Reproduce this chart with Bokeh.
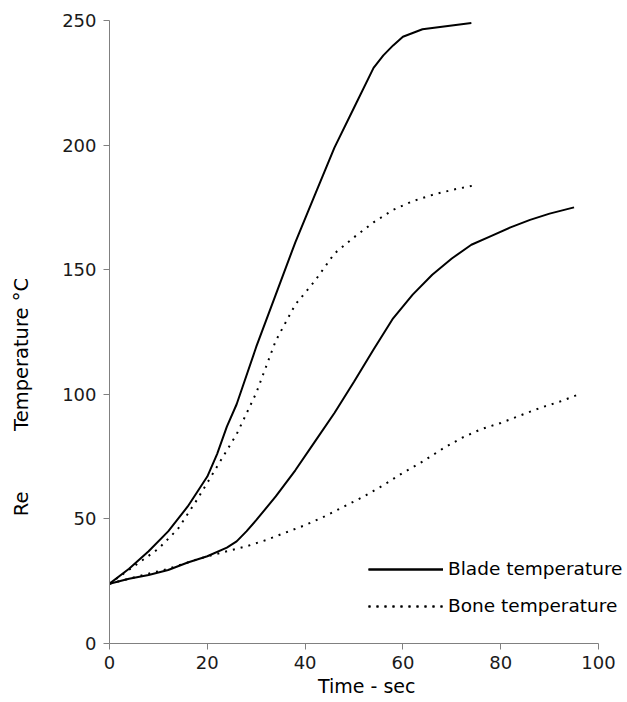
from bokeh.plotting import figure
from bokeh.models import Range1d, FixedTicker, Legend, LegendItem, LinearAxis
from bokeh.embed import file_html
from bokeh.resources import INLINE

# Data
blade1_t = [0, 4, 8, 12, 16, 20, 22, 24, 26, 30, 34, 38, 42, 46, 50, 54, 56, 58, 60, 64, 68, 74]
blade1_T = [24, 30, 37, 45, 55, 67, 76, 87, 96, 119, 140, 161, 180, 199, 215, 231, 236, 240, 243.5, 246.5, 247.5, 249]

bone1_t = [0, 5, 10, 14, 18, 22, 26, 30, 34, 38, 42, 46, 50, 54, 58, 62, 66, 70, 75]
bone1_T = [24, 31, 38, 46, 58, 71, 84, 100.5, 121.5, 136, 145.5, 156.5, 163, 169, 174, 177.5, 180, 182, 184]

blade2_t = [0, 4, 8, 12, 16, 20, 24, 26, 28, 30, 34, 38, 42, 46, 50, 54, 58, 62, 66, 70, 74, 78, 82, 86, 90, 95]
blade2_T = [24, 26, 27.5, 29.5, 32.5, 35, 38.5, 41, 45, 49.5, 59, 69.5, 81, 92.5, 105, 118, 130.5, 140, 148, 154.5, 160, 163.5, 167, 170, 172.5, 175]

bone2_t = [0, 4, 8, 12, 16, 20, 24, 28, 32, 36, 40, 44, 48, 52, 56, 60, 64, 68, 72, 76, 80, 84, 88, 92, 96]
bone2_T = [24, 26, 28, 30, 32.5, 35, 37, 39, 41.5, 44.5, 47.5, 51, 55, 59, 63.5, 68.5, 73, 78, 82.5, 86, 88.5, 91.5, 94.5, 97, 100]

x_ticks = [0, 20, 40, 60, 80, 100]
y_ticks = [0, 50, 100, 150, 200, 250]

x_title = "Time - sec"
y_title = "Temperature °C"
y_note = "Re"
series_names = ["Blade temperature", "Bone temperature"]

FONT = "DejaVu Sans"

p = figure(width=627, height=702, output_backend="svg", toolbar_location=None,
           x_range=Range1d(0, 105.93), y_range=Range1d(0, 250),
           min_border_left=109, min_border_right=0, min_border_top=20, min_border_bottom=59)
p.outline_line_color = None
p.grid.visible = False
p.background_fill_color = "white"
p.border_fill_color = "white"

for ax, ticks in ((p.xaxis, x_ticks), (p.yaxis, y_ticks)):
    ax.ticker = FixedTicker(ticks=ticks)
    ax.major_tick_out = 6
    ax.major_tick_in = 0
    ax.minor_tick_line_color = None
    ax.axis_line_color = "#808080"
    ax.major_tick_line_color = "#808080"
    ax.major_label_text_font = FONT
    ax.major_label_text_font_size = "18px"
    ax.major_label_text_color = "#1a1a1a"

p.xaxis.bounds = (0, 100)
p.xaxis.major_label_standoff = 6
p.yaxis.major_label_standoff = 7

# Axis titles drawn as labels of extra, line-less axes so they can be placed freely
y_title_axis = LinearAxis(ticker=FixedTicker(ticks=[116, 56]),
                          major_label_overrides={116: y_title, 56: y_note},
                          major_label_orientation="vertical",
                          axis_line_color=None, major_tick_line_color=None,
                          minor_tick_line_color=None, major_tick_in=0, major_tick_out=0,
                          major_label_standoff=26, major_label_text_font=FONT,
                          major_label_text_font_size="19.5px", major_label_text_color="#000000")
p.add_layout(y_title_axis, "left")

x_title_axis = LinearAxis(ticker=FixedTicker(ticks=[52.6]),
                          major_label_overrides={52.6: x_title},
                          axis_line_color=None, major_tick_line_color=None,
                          minor_tick_line_color=None, major_tick_in=0, major_tick_out=0,
                          major_label_standoff=3, major_label_text_font=FONT,
                          major_label_text_font_size="19px", major_label_text_color="#000000")
p.add_layout(x_title_axis, "below")

r1 = p.line(blade1_t, blade1_T, line_color="black", line_width=2)
r2 = p.line(bone1_t, bone1_T, line_color="black", line_width=2, line_dash="2 6")
r3 = p.line(blade2_t, blade2_T, line_color="black", line_width=2)
r4 = p.line(bone2_t, bone2_T, line_color="black", line_width=2, line_dash="2 6")

legend = Legend(items=[LegendItem(label=series_names[0], renderers=[r1, r3]),
                       LegendItem(label=series_names[1], renderers=[r2, r4])],
                location=(259, 27), glyph_width=75, glyph_height=20, label_height=20,
                spacing=16, padding=0, margin=0, label_standoff=5,
                border_line_alpha=0, background_fill_alpha=0,
                label_text_font=FONT, label_text_font_size="18.5px", label_text_color="#000000")
p.add_layout(legend)

open("out.html", "w").write(file_html(p, INLINE))
